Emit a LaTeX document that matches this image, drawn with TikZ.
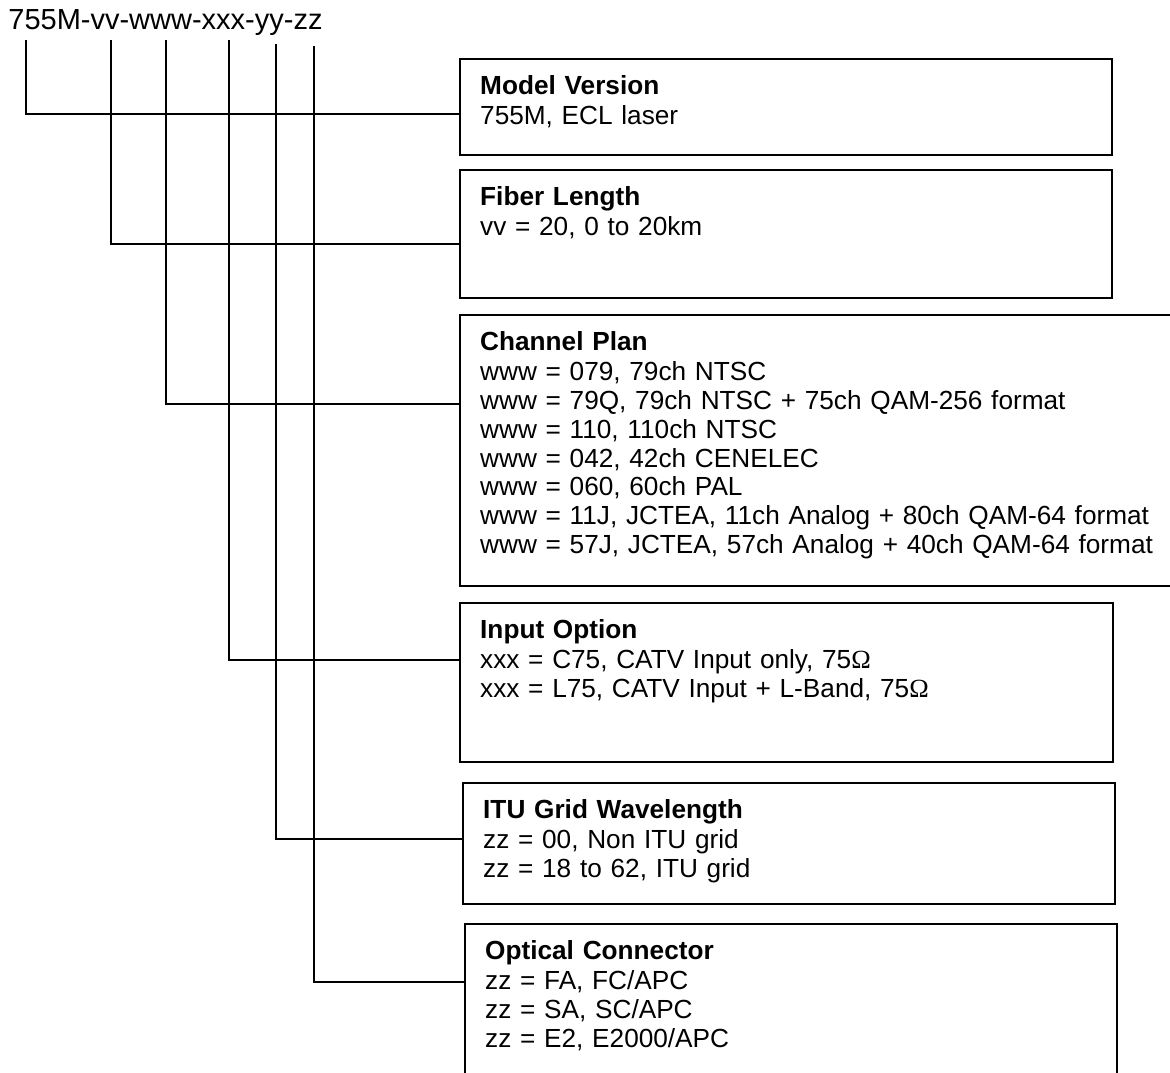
\documentclass[tikz,border=0pt]{standalone}
\usepackage{fontspec}
\setmainfont{Liberation Sans}
\newfontfamily\ohmfont{Liberation Serif}
\begin{document}
\begin{tikzpicture}[x=0.5pt, y=-0.5pt,
    opt/.style = {rectangle, draw, line width=1.2pt, anchor=north west,
      inner xsep=10pt, inner ysep=0pt, text height=17.5pt, align=left,
      font=\fontsize{13.1}{14.4}\selectfont},
    conn/.style = {line width=0.9pt}]
  \useasboundingbox (0,0) rectangle (1170,1072);
  \node[anchor=base west, inner sep=0pt, font=\fontsize{14.5}{17}\selectfont]
    (code) at (8,29) {755M-vv-www-xxx-yy-zz};
  \node[opt, text width=306pt, text depth=30.5pt] (model) at (459,58)
    {\textbf{Model Version}\\[0.8pt] 755M, ECL laser};
  \node[opt, text width=306pt, text depth=46.5pt] (fiber) at (459,169)
    {\textbf{Fiber Length}\\[0.8pt] vv = 20, 0 to 20km};
  \node[opt, text width=343pt, text depth=118pt] (plan) at (459,314)
    {\textbf{Channel Plan}\\[0.8pt]
      www = 079, 79ch NTSC\\
      www = 79Q, 79ch NTSC + 75ch QAM-256 format\\
      www = 110, 110ch NTSC\\
      www = 042, 42ch CENELEC\\
      www = 060, 60ch PAL\\
      www = 11J, JCTEA, 11ch Analog + 80ch QAM-64 format\\
      www = 57J, JCTEA, 57ch Analog + 40ch QAM-64 format};
  \node[opt, text width=306.5pt, text depth=62pt] (input) at (459,602)
    {\textbf{Input Option}\\[0.8pt]
      xxx = C75, CATV Input only, 75{\ohmfont Ω}\\
      xxx = L75, CATV Input + L-Band, 75{\ohmfont Ω}};
  \node[opt, text width=306pt, text depth=43pt] (itu) at (462,782)
    {\textbf{ITU Grid Wavelength}\\[0.8pt]
      zz = 00, Non ITU grid\\
      zz = 18 to 62, ITU grid};
  \node[opt, text width=306pt, text depth=63.5pt] (connector) at (464,923)
    {\textbf{Optical Connector}\\[0.8pt]
      zz = FA, FC/APC\\
      zz = SA, SC/APC\\
      zz = E2, E2000/APC};
  \foreach \n/\x/\t in {1/26/40, 2/111/40, 3/166/40, 4/229/40, 5/276/44, 6/314/46}
    \coordinate (c\n) at (\x,\t);
  \foreach \n/\b/\y in {1/model/114, 2/fiber/244, 3/plan/404, 4/input/660,
      5/itu/839, 6/connector/982}
    \draw[conn] (c\n) |- (\b.west |- 0,\y);
\end{tikzpicture}
\end{document}
